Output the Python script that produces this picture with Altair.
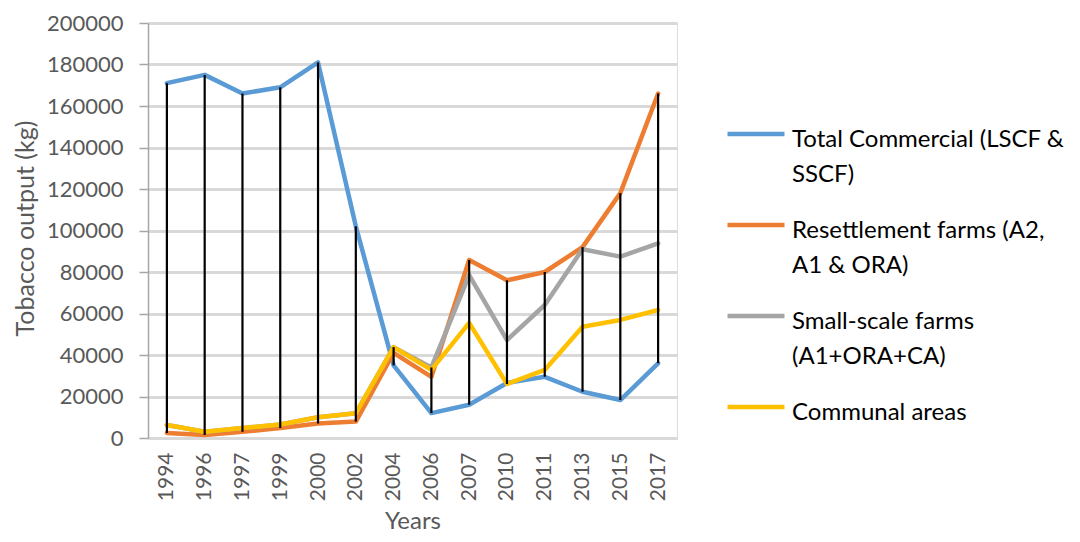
import json
import altair as alt
import pandas as pd

years = ["1994", "1996", "1997", "1999", "2000", "2002", "2004",
         "2006", "2007", "2010", "2011", "2013", "2015", "2017"]

series_names = [
    "Total Commercial (LSCF & SSCF)",
    "Resettlement farms (A2, A1 & ORA)",
    "Small-scale farms (A1+ORA+CA)",
    "Communal areas",
]
legend_lines = [
    ["Total Commercial (LSCF &", "SSCF)"],
    ["Resettlement farms (A2,", "A1 & ORA)"],
    ["Small-scale farms", "(A1+ORA+CA)"],
    ["Communal areas"],
]
colors = ["#5B9BD5", "#ED7D31", "#A5A5A5", "#FFC000"]

commercial = [171000, 175000, 166000, 169000, 181000, 102000, 35000,
              12000, 16000, 26500, 29500, 22300, 18300, 36000]
resettlement = [2400, 1500, 3000, 4800, 7000, 7900, 41000,
                29500, 85800, 76000, 80000, 92000, 118000, 166000]
smallscale = [6300, 3000, 4800, 6500, 10000, 11900, 43800,
              34000, 78500, 47200, 64100, 91000, 87400, 93800]
communal = [6300, 3000, 4800, 6500, 10000, 11900, 43800,
            32800, 55500, 26000, 32800, 53600, 56900, 61700]

rows = []
for name, vals in zip(series_names, [commercial, resettlement, smallscale, communal]):
    for yr, v in zip(years, vals):
        rows.append({"Year": yr, "Series": name, "Output": v})
df = pd.DataFrame(rows)

label_expr = " : ".join(
    f"datum.label == {json.dumps(n)} ? {json.dumps(l)}" for n, l in zip(series_names, legend_lines)
) + " : datum.label"

FONT = "Lato"
GREY = "#595959"

x_enc = alt.X(
    "Year:O", sort=years,
    scale=alt.Scale(type="point", padding=0.5),
    axis=alt.Axis(
        title="Years", labelAngle=270, ticks=False, labelPadding=14,
        labelFont=FONT, labelFontSize=21, labelColor=GREY,
        domainColor="#d9d9d9", domainWidth=3, grid=False,
        titleFont=FONT, titleFontSize=24, titleColor=GREY, titleFontWeight="normal",
        titleX=264.5, titleY=83, titleBaseline="middle", titleAlign="center",
    ),
)

y_enc = alt.Y(
    "Output:Q",
    scale=alt.Scale(domain=[0, 200000]),
    axis=alt.Axis(
        title="Tobacco output (kg)", values=list(range(0, 200001, 20000)), format="d",
        labelFont=FONT, labelFontSize=22, labelColor=GREY, labelPadding=16,
        tickSize=9, tickColor="#a6a6a6", tickWidth=1.5,
        domainColor="#a6a6a6", domainWidth=1.5,
        grid=True, gridColor="#d9d9d9", gridWidth=3,
        titleFont=FONT, titleFontSize=25, titleColor=GREY, titleFontWeight="normal",
        titleX=-123, titleY=205, titleBaseline="middle", titleAlign="center",
    ),
)

lines = alt.Chart(df).mark_line(strokeWidth=4.5, strokeJoin="round", strokeCap="round").encode(
    x=x_enc,
    y=y_enc,
    color=alt.Color(
        "Series:N",
        scale=alt.Scale(domain=series_names, range=colors),
        sort=series_names,
        legend=alt.Legend(
            title=None, orient="none", legendX=577, legendY=74, padding=0,
            symbolType="M-1,0.21L1,0.21", symbolSize=3249, symbolStrokeWidth=4.5,
            labelFont=FONT, labelFontSize=24, labelColor="black", labelLimit=400,
            labelOffset=5, labelBaseline="top", rowPadding=1, labelExpr=label_expr,
        ),
    ),
)

rules = alt.Chart(df).mark_rule(color="black", strokeWidth=2.2).encode(
    x=alt.X("Year:O", sort=years),
    y=alt.Y("min(Output):Q"),
    y2=alt.Y2("max(Output):Q"),
)

chart = alt.layer(lines, rules).properties(
    width=529, height=415,
    padding={"left": 140, "top": 15, "right": 395, "bottom": 96},
    autosize=alt.AutoSizeParams(type="none"),
).configure_view(
    fill="#eeeeee", strokeWidth=0
).configure(
    background="white",
    style={"guide-label": {"lineHeight": 35}},
)

chart.save("out.html", embed_options={"renderer": "svg", "actions": False})
